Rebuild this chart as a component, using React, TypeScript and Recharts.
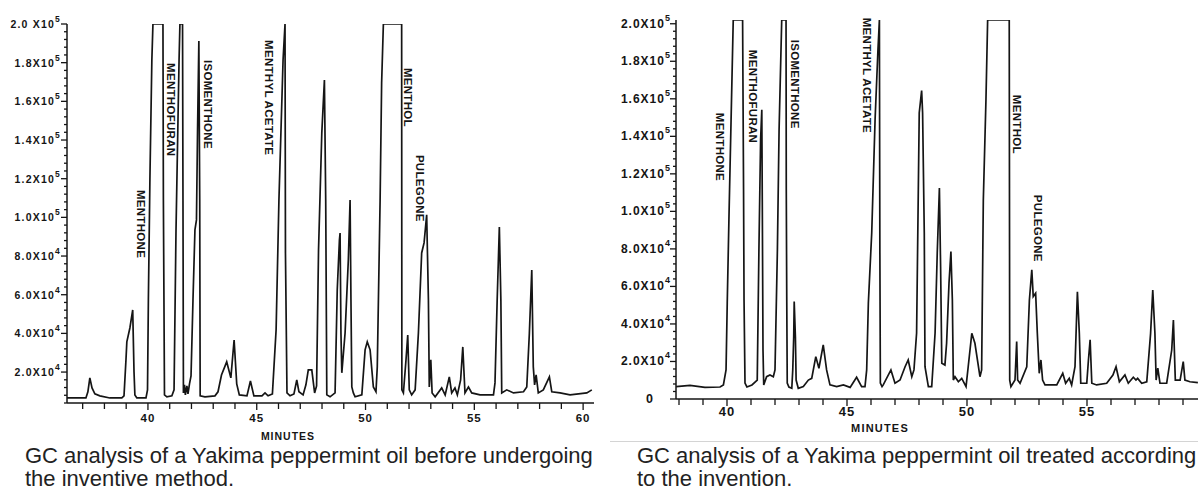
import React from 'react';
import { LineChart, Line, XAxis, YAxis, ReferenceDot } from 'recharts';

const FONT = '"Liberation Sans", Arial, Helvetica, sans-serif';
const INK = '#151515';

// ---- Chromatogram before the inventive method (minutes, detector response) ----
const beforeMinutes = [
  36.28, 37.15, 37.24, 37.33, 37.43, 37.56, 37.79, 38.25, 38.8, 38.9, 38.99, 39.03, 39.17, 39.3, 39.36, 39.4, 39.49,
  39.91, 39.98, 40.02, 40.09, 40.18, 40.23, 40.69, 40.71, 40.76, 40.87, 41.1, 41.2, 41.29, 41.43, 41.47, 41.59, 41.61,
  41.63, 41.68, 41.72, 41.79, 41.84, 41.91, 41.98, 42.07, 42.16, 42.23, 42.28, 42.34, 42.38, 42.4, 42.62, 43.08, 43.22,
  43.38, 43.62, 43.81, 43.96, 44.08, 44.2, 44.55, 44.71, 44.87, 45.24, 45.38, 45.52, 45.72, 45.89, 46.02, 46.21, 46.3,
  46.32, 46.39, 46.53, 46.71, 46.84, 46.94, 47.13, 47.26, 47.37, 47.53, 47.66, 47.75, 47.84, 47.99, 48.11, 48.17, 48.22,
  48.37, 48.6, 48.7, 48.8, 48.83, 48.87, 48.91, 49.06, 49.21, 49.29, 49.33, 49.37, 49.44, 49.52, 49.83, 49.98, 50.08,
  50.21, 50.36, 50.48, 50.54, 50.67, 50.74, 50.82, 51.66, 51.67, 51.74, 51.86, 51.94, 52.01, 52.12, 52.28, 52.43, 52.58,
  52.69, 52.81, 52.89, 52.93, 53.0, 53.06, 53.2, 53.5, 53.66, 53.85, 53.96, 54.11, 54.22, 54.37, 54.47, 54.57, 54.73,
  54.88, 55.26, 55.88, 55.95, 56.05, 56.15, 56.22, 56.26, 56.49, 56.8, 57.26, 57.41, 57.53, 57.64, 57.71, 57.77, 57.84,
  57.94, 58.17, 58.45, 58.56, 58.94, 59.4, 60.17, 60.4,
];
const beforeSignal = [
  6600, 6600, 9800, 17000, 11800, 8700, 7700, 6600, 6600, 7700, 26300, 35600, 42800, 52100, 20100, 8200, 6600,
  6600, 10800, 57300, 119300, 181400, 200000, 200000, 109000, 8200, 7200, 7700, 10800, 93500, 181400, 200000, 200000, 109000,
  9200, 13400, 8200, 12800, 8700, 13900, 18000, 57300, 93500, 98700, 145200, 191200, 109000, 7700, 7200, 7700, 9800,
  18500, 25300, 17000, 36600, 13900, 8200, 7700, 15400, 7700, 7700, 9200, 7700, 8700, 41800, 109000, 181400, 200000,
  81600, 9200, 7700, 8700, 15900, 9800, 8200, 13400, 21100, 21100, 9200, 12800, 83200, 143600, 171000, 109000, 8200,
  7200, 9200, 62500, 88300, 91900, 40200, 19600, 40200, 78000, 109000, 57300, 12300, 9200, 7200, 8200, 31500, 35600,
  31500, 12300, 9800, 22700, 109000, 169500, 200000, 200000, 10800, 9200, 26300, 39200, 10800, 8200, 10800, 40200, 81600,
  86800, 101300, 57300, 12300, 26300, 9200, 7200, 11800, 8200, 17500, 9200, 11800, 8200, 15900, 33000, 9200, 12300,
  9200, 8200, 8200, 14400, 57300, 95000, 57300, 9200, 10800, 9200, 9800, 12300, 40200, 72800, 22700, 13400, 18500,
  9200, 10800, 17500, 9800, 9200, 8200, 9200, 10800,
];

// ---- Chromatogram after treatment according to the invention ----
const afterMinutes = [
  37.88, 38.46, 39.08, 39.71, 39.85, 39.96, 40.01, 40.08, 40.17, 40.26, 40.65, 40.69, 40.71, 40.75, 40.83, 41.04, 41.26,
  41.33, 41.4, 41.45, 41.47, 41.5, 41.53, 41.65, 41.79, 41.93, 42.0, 42.1, 42.17, 42.28, 42.46, 42.47, 42.49, 42.51,
  42.58, 42.7, 42.74, 42.78, 42.8, 42.85, 42.88, 42.97, 43.18, 43.39, 43.53, 43.7, 43.83, 44.01, 44.15, 44.29, 44.57,
  44.85, 45.13, 45.4, 45.61, 45.75, 45.82, 45.89, 46.03, 46.17, 46.29, 46.35, 46.37, 46.39, 46.46, 46.51, 46.83, 47.0,
  47.21, 47.42, 47.55, 47.7, 47.79, 47.9, 48.01, 48.11, 48.15, 48.22, 48.25, 48.39, 48.53, 48.67, 48.76, 48.85, 48.9,
  48.95, 49.08, 49.15, 49.25, 49.33, 49.39, 49.43, 49.5, 49.64, 49.78, 49.96, 50.05, 50.2, 50.33, 50.54, 50.61, 50.68,
  50.79, 50.86, 51.76, 51.78, 51.83, 52.0, 52.07, 52.11, 52.21, 52.49, 52.6, 52.7, 52.76, 52.86, 52.93, 53.01, 53.08,
  53.15, 53.25, 53.74, 53.99, 54.11, 54.26, 54.36, 54.5, 54.6, 54.68, 54.74, 54.99, 55.06, 55.13, 55.2, 55.4, 55.82,
  56.08, 56.21, 56.35, 56.58, 56.72, 56.93, 57.04, 57.11, 57.28, 57.49, 57.65, 57.74, 57.83, 57.88, 57.95, 58.04, 58.32,
  58.53, 58.6, 58.68, 58.88, 59.01, 59.08, 59.29, 59.62,
];
const afterSignal = [
  6600, 7300, 6200, 6400, 7500, 15500, 51200, 95500, 148800, 202000, 202000, 111500, 52800, 8500, 6400, 7500, 10100,
  79500, 138100, 154100, 106100, 26100, 7500, 11900, 12800, 11900, 15500, 79500, 143500, 202000, 202000, 111500, 52800, 8500,
  6400, 5700, 15500, 33200, 51900, 33200, 10100, 5700, 6600, 10100, 11000, 22600, 16400, 28800, 15500, 7500, 6600,
  7500, 6200, 11600, 6600, 6600, 15500, 51200, 88500, 148800, 186100, 202000, 77900, 8500, 6600, 7500, 15500, 8400,
  10100, 17200, 20800, 11900, 15500, 35200, 152500, 164400, 152500, 88500, 17200, 6600, 6600, 35200, 77700, 112400, 70600,
  19000, 18100, 29700, 61700, 78600, 52800, 10100, 11900, 9200, 11000, 6600, 17200, 35000, 29700, 11900, 15500, 106100,
  159500, 202000, 202000, 10100, 6600, 10100, 30600, 10100, 8400, 17200, 52800, 68800, 54600, 56400, 35000, 13700, 20800,
  10100, 7500, 7500, 13700, 8400, 11000, 7500, 17200, 57200, 35000, 8400, 8400, 20800, 31500, 8400, 7500, 8400,
  12800, 17200, 9200, 12800, 8400, 11600, 10100, 11000, 8400, 9200, 35000, 58100, 35000, 10100, 16400, 8400, 8400,
  26100, 42100, 10100, 10100, 19900, 10100, 9200, 8700,
];

// ---- Peak annotations (name, retention minute, top of the label in signal units) ----
const peakNames = ['MENTHONE', 'MENTHOFURAN', 'ISOMENTHONE', 'MENTHYL ACETATE', 'MENTHOL', 'PULEGONE'];
const beforeLabelMinutes = [39.68, 41.08, 42.76, 45.56, 51.95, 52.51];
const beforeLabelTops = [114200, 179800, 181400, 191700, 177300, 132300];
const afterLabelMinutes = [39.71, 41.08, 42.83, 45.83, 52.07, 52.94];
const afterLabelTops = [152500, 186100, 191500, 203200, 162100, 108800];

// ---- Axis ticks ----
const beforeMinuteTicks = [37, 38, 39, 40, 41, 42, 43, 44, 45, 46, 47, 48, 49, 50, 51, 52, 53, 54, 55, 56, 57, 58, 59, 60];
const afterMinuteTicks = [38, 39, 40, 41, 42, 43, 44, 45, 46, 47, 48, 49, 50, 51, 52, 53, 54, 55, 56, 57, 58, 59];
const intensityMajorTicks = [20000, 40000, 60000, 80000, 100000, 120000, 140000, 160000, 180000, 200000];
const intensityMinorStep = 4000;

function intensityTicks(start: number): number[] {
  const out: number[] = [];
  for (let v = start; v <= 200000; v += intensityMinorStep) out.push(v);
  return out;
}

const beforeData = beforeMinutes.map((t, i) => ({ t, v: beforeSignal[i] }));
const afterData = afterMinutes.map((t, i) => ({ t, v: afterSignal[i] }));

function IntensityTick(props: any) {
  const { x, y, payload, variant } = props;
  const v = payload.value as number;
  const major = v === 0 || intensityMajorTicks.indexOf(v) >= 0;
  const left = variant === 'before';
  const len = major ? 6 : 3;
  let label: React.ReactNode = null;
  if (major) {
    if (v === 0) {
      label = (
        <text x={x - 23} y={y} textAnchor="end" dominantBaseline="central" fontSize={12.5} fontWeight="bold" fill={INK} fontFamily={FONT}>
          0
        </text>
      );
    } else {
      const exp = v >= 100000 ? 5 : 4;
      const mant = (v / Math.pow(10, exp)).toFixed(1);
      const base = left && v === 200000 ? `${mant} X10` : `${mant}X10`;
      label = (
        <text
          x={x - (left ? 6 : 5)}
          y={y}
          textAnchor="end"
          dominantBaseline="central"
          fontSize={left ? 10.5 : 12}
          fontWeight="bold"
          fill={INK}
          fontFamily={FONT}
          letterSpacing={left ? 1.2 : 1}
        >
          {base}
          <tspan fontSize={left ? 8.5 : 9} dy={left ? -5 : -6}>{exp}</tspan>
        </text>
      );
    }
  }
  return (
    <g>
      <line x1={x - len} x2={x} y1={y} y2={y} stroke={INK} strokeWidth={1.3} />
      {label}
    </g>
  );
}

function MinuteTick(props: any) {
  const { x, y, payload, variant } = props;
  const v = payload.value as number;
  const major = v % 5 === 0;
  const left = variant === 'before';
  return (
    <g>
      <line x1={x} x2={x} y1={y} y2={y + (major ? 7 : 6)} stroke={INK} strokeWidth={1.3} />
      {major && (
        <text x={x} y={y + (left ? 15 : 12.5)} textAnchor="middle" dominantBaseline="central" fontSize={left ? 11.5 : 13} fontWeight="bold" fill={INK} fontFamily={FONT} letterSpacing={1}>
          {v}
        </text>
      )}
    </g>
  );
}

const peakLabelShape = (text: string) => (p: any) => (
  <text
    x={p.cx}
    y={p.cy}
    transform={`rotate(90 ${p.cx} ${p.cy})`}
    fontSize={11.5}
    fontWeight="bold"
    fontFamily={FONT}
    fill={INK}
    dominantBaseline="central"
    letterSpacing={0.3}
  >
    {text}
  </text>
);

function Chromatogram(props: {
  data: { t: number; v: number }[];
  width: number;
  height: number;
  margin: any;
  xDomain: [number, number];
  yDomain: [number, number];
  xTicks: number[];
  yTicks: number[];
  yWidth: number;
  xHeight: number;
  labelMinutes: number[];
  labelTops: number[];
  variant: string;
}) {
  const axisLine = { stroke: INK, strokeWidth: 1.5 };
  return (
    <LineChart width={props.width} height={props.height} data={props.data} margin={props.margin}>
      <XAxis
        type="number"
        dataKey="t"
        domain={props.xDomain}
        ticks={props.xTicks}
        interval={0}
        tickSize={0}
        tickMargin={0}
        tickLine={false}
        axisLine={axisLine}
        height={props.xHeight}
        allowDataOverflow
        tick={<MinuteTick variant={props.variant} />}
      />
      <YAxis
        type="number"
        domain={props.yDomain}
        ticks={props.yTicks}
        interval={0}
        tickSize={0}
        tickMargin={0}
        tickLine={false}
        axisLine={axisLine}
        width={props.yWidth}
        allowDataOverflow
        tick={<IntensityTick variant={props.variant} />}
      />
      <Line type="linear" dataKey="v" stroke={INK} strokeWidth={1.7} dot={false} isAnimationActive={false} />
      {peakNames.map((name, i) => (
        <ReferenceDot
          key={name}
          x={props.labelMinutes[i]}
          y={props.labelTops[i]}
          r={0}
          ifOverflow="visible"
          shape={peakLabelShape(name)}
        />
      ))}
    </LineChart>
  );
}

export default function App() {
  return (
    <div
      style={{
        position: 'absolute',
        left: 0,
        top: 0,
        width: 1198,
        height: 495,
        overflow: 'hidden',
        background: '#ffffff',
        fontFamily: FONT,
      }}
    >
      <div style={{ position: 'absolute', left: 0, top: 0 }}>
        <Chromatogram
          data={beforeData}
          width={600}
          height={440}
          margin={{ top: 24, right: 6, bottom: 0, left: 0 }}
          xDomain={[36.28, 60.5]}
          yDomain={[4000, 200000]}
          xTicks={beforeMinuteTicks}
          yTicks={intensityTicks(4000)}
          yWidth={67}
          xHeight={37}
          labelMinutes={beforeLabelMinutes}
          labelTops={beforeLabelTops}
          variant="before"
        />
      </div>
      <div style={{ position: 'absolute', left: 600, top: 0 }}>
        <Chromatogram
          data={afterData}
          width={598}
          height={440}
          margin={{ top: 20, right: 0, bottom: 0, left: 0 }}
          xDomain={[37.875, 59.625]}
          yDomain={[0, 202000]}
          xTicks={afterMinuteTicks}
          yTicks={intensityTicks(0)}
          yWidth={76}
          xHeight={41}
          labelMinutes={afterLabelMinutes}
          labelTops={afterLabelTops}
          variant="after"
        />
      </div>

      <div
        style={{
          position: 'absolute',
          left: 238,
          top: 430,
          width: 100,
          textAlign: 'center',
          fontSize: 10.5,
          lineHeight: '12px',
          fontWeight: 'bold',
          letterSpacing: 1,
          color: INK,
        }}
      >
        MINUTES
      </div>
      <div
        style={{
          position: 'absolute',
          left: 830,
          top: 422,
          width: 100,
          textAlign: 'center',
          fontSize: 11,
          lineHeight: '12px',
          fontWeight: 'bold',
          letterSpacing: 1.2,
          color: INK,
        }}
      >
        MINUTES
      </div>
      <div style={{ position: 'absolute', left: 610, top: 441, width: 588, height: 1, background: '#d4d4d4' }} />

      <div
        style={{
          position: 'absolute',
          left: 25,
          top: 444,
          fontSize: 22,
          lineHeight: '23px',
          color: '#222',
          whiteSpace: 'nowrap',
        }}
      >
        GC analysis of a Yakima peppermint oil before undergoing
        <br />
        the inventive method.
      </div>
      <div
        style={{
          position: 'absolute',
          left: 637,
          top: 444,
          fontSize: 22,
          lineHeight: '23px',
          color: '#222',
          whiteSpace: 'nowrap',
        }}
      >
        GC analysis of a Yakima peppermint oil treated according
        <br />
        to the invention.
      </div>
    </div>
  );
}
